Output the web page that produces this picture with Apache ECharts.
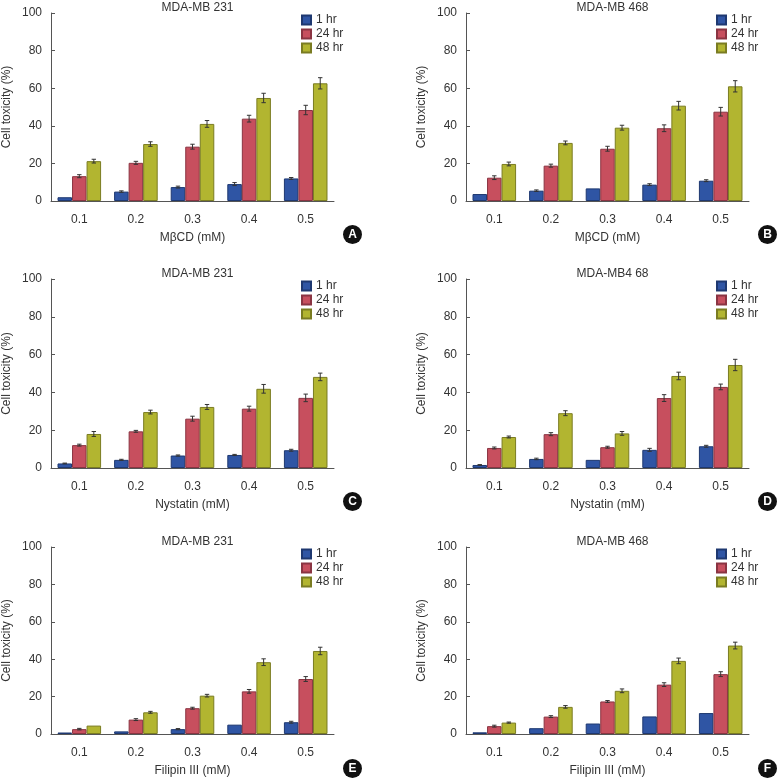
<!DOCTYPE html>
<html>
<head>
<meta charset="utf-8">
<script src="https://cdn.jsdelivr.net/npm/echarts@6/dist/echarts.min.js"></script>
<style>html,body{margin:0;padding:0;background:#fff;}#chart{width:778px;height:778px;}</style>
</head>
<body>
<div id="chart"></div>
<script>
// ---- data ----
const categories = ['0.1', '0.2', '0.3', '0.4', '0.5'];
const seriesNames = ['1 hr', '24 hr', '48 hr'];
const yTicks = [0, 20, 40, 60, 80, 100];
const panelTitles = ['MDA-MB 231', 'MDA-MB 468', 'MDA-MB 231', 'MDA-MB4 68', 'MDA-MB 231', 'MDA-MB 468'];
const xAxisNames = ['M\u03b2CD (mM)', 'M\u03b2CD (mM)', 'Nystatin (mM)', 'Nystatin (mM)', 'Filipin III (mM)', 'Filipin III (mM)'];
const panelLetters = ['A', 'B', 'C', 'D', 'E', 'F'];
const yAxisName = 'Cell toxicity (%)';

// Panel A: MBCD, MDA-MB 231
const a1hr = [2.0, 5.0, 7.4, 9.0, 12.0];
const a24hr = [13.2, 20.3, 28.9, 43.8, 48.4];
const a48hr = [21.2, 30.3, 41.0, 54.8, 62.6];
const aErr1 = [0, 0.4, 0.5, 0.8, 0.5];
const aErr24 = [0.8, 0.8, 1.3, 1.8, 2.5];
const aErr48 = [1.0, 1.2, 1.8, 2.5, 3.0];

// Panel B: MBCD, MDA-MB 468
const b1hr = [3.7, 5.5, 6.7, 8.7, 10.8];
const b24hr = [12.4, 18.8, 27.8, 38.7, 47.5];
const b48hr = [19.7, 30.9, 39.0, 50.7, 61.0];
const bErr1 = [0, 0.4, 0, 0.5, 0.5];
const bErr24 = [1.0, 0.8, 1.3, 1.8, 2.3];
const bErr48 = [1.0, 1.0, 1.3, 2.3, 3.0];

// Panel C: Nystatin, MDA-MB 231
const c1hr = [2.4, 4.3, 6.6, 6.9, 9.4];
const c24hr = [12.1, 19.4, 26.1, 31.4, 37.1];
const c48hr = [18.0, 29.6, 32.3, 41.9, 48.2];
const cErr1 = [0.2, 0.3, 0.3, 0.3, 0.5];
const cErr24 = [0.5, 0.5, 1.3, 1.3, 2.0];
const cErr48 = [1.3, 1.0, 1.3, 2.3, 2.0];

// Panel D: Nystatin, MDA-MB4 68
const d1hr = [1.6, 4.8, 4.3, 9.6, 11.5];
const d24hr = [10.6, 17.9, 11.0, 37.0, 42.9];
const d48hr = [16.4, 29.0, 18.3, 48.7, 54.5];
const dErr1 = [0.2, 0.4, 0, 0.8, 0.5];
const dErr24 = [0.5, 0.8, 0.5, 1.8, 1.5];
const dErr48 = [0.5, 1.3, 1.0, 2.0, 3.0];

// Panel E: Filipin III, MDA-MB 231
const e1hr = [0.8, 1.4, 2.6, 5.0, 6.3];
const e24hr = [2.6, 7.7, 13.8, 22.8, 29.4];
const e48hr = [4.5, 11.6, 20.5, 38.4, 44.4];
const eErr1 = [0, 0, 0.3, 0, 0.5];
const eErr24 = [0.4, 0.5, 0.5, 1.0, 1.3];
const eErr48 = [0, 0.5, 0.7, 1.8, 2.0];

// Panel F: Filipin III, MDA-MB 468
const f1hr = [0.9, 3.1, 5.6, 9.4, 11.2];
const f24hr = [4.2, 9.3, 17.4, 26.4, 32.0];
const f48hr = [6.1, 14.5, 23.1, 39.1, 47.3];
const fErr1 = [0, 0, 0, 0, 0];
const fErr24 = [0.5, 0.5, 0.5, 1.0, 1.3];
const fErr48 = [0.3, 0.7, 1.0, 1.5, 1.8];

// ---- build ----
const panels = [
  {v: [a1hr, a24hr, a48hr], e: [aErr1, aErr24, aErr48]},
  {v: [b1hr, b24hr, b48hr], e: [bErr1, bErr24, bErr48]},
  {v: [c1hr, c24hr, c48hr], e: [cErr1, cErr24, cErr48]},
  {v: [d1hr, d24hr, d48hr], e: [dErr1, dErr24, dErr48]},
  {v: [e1hr, e24hr, e48hr], e: [eErr1, eErr24, eErr48]},
  {v: [f1hr, f24hr, f48hr], e: [fErr1, fErr24, fErr48]}
];

const FONT = '"Liberation Sans", Arial, sans-serif';
const TXT = '#333333';
const AXIS = '#555555';
const fills = ['#2F55A4', '#C74F5E', '#B2B530'];
const borders = ['#1E3870', '#8A3442', '#7A7C22'];
const CAT_GAP = 0.23;

const colLeft = [51, 466];
const rowTop = [13, 279, 547];
const rowHeight = [188, 189, 188];
const plotW = 283;

const grids = [], xAxes = [], yAxes = [], series = [], titles = [], legends = [], graphics = [];

panels.forEach(function (p, i) {
  const col = i % 2, row = Math.floor(i / 2);
  const left = colLeft[col], top = rowTop[row], h = rowHeight[row];
  grids.push({left: left, top: top, width: plotW, height: h, containLabel: false});
  xAxes.push({
    type: 'category', gridIndex: i, data: categories,
    name: xAxisNames[i], nameLocation: 'middle', nameGap: 31,
    nameTextStyle: {fontFamily: FONT, fontSize: 12, color: TXT},
    axisLine: {lineStyle: {color: AXIS, width: 1}},
    axisTick: {inside: true, length: 4, lineStyle: {color: AXIS}},
    axisLabel: {fontFamily: FONT, fontSize: 12, color: TXT, margin: 13},
    splitLine: {show: false}
  });
  yAxes.push({
    type: 'value', gridIndex: i, min: yTicks[0], max: yTicks[yTicks.length - 1],
    interval: yTicks[1] - yTicks[0],
    name: yAxisName, nameLocation: 'middle', nameGap: 38, nameRotate: 90,
    nameTextStyle: {fontFamily: FONT, fontSize: 12, color: TXT},
    axisLine: {show: true, lineStyle: {color: AXIS, width: 1}},
    axisTick: {show: true, inside: true, length: 4, lineStyle: {color: AXIS}},
    axisLabel: {fontFamily: FONT, fontSize: 12, color: TXT, margin: 9},
    splitLine: {show: false}
  });
  titles.push({
    text: panelTitles[i], left: left + plotW / 2, top: top - 16, textAlign: 'center',
    textStyle: {fontFamily: FONT, fontSize: 12, fontWeight: 'normal', color: TXT}
  });
  legends.push({
    data: seriesNames, orient: 'vertical', left: left + plotW - 33, top: top + 1,
    itemWidth: 9, itemHeight: 9, itemGap: 2, selectedMode: false, padding: 0,
    icon: 'rect',
    textStyle: {fontFamily: FONT, fontSize: 12, color: TXT}
  });
  p.v.forEach(function (vals, s) {
    series.push({
      type: 'bar', name: seriesNames[s], xAxisIndex: i, yAxisIndex: i,
      data: vals, barGap: '0%', barCategoryGap: (CAT_GAP * 100) + '%',
      itemStyle: {color: fills[s], borderColor: borders[s], borderWidth: 1},
      emphasis: {disabled: true}, animation: false
    });
  });
  p.v.forEach(function (vals, s) {
    const errs = p.e[s];
    series.push({
      type: 'custom', xAxisIndex: i, yAxisIndex: i, animation: false, z: 5,
      data: vals.map(function (v, k) { return [k, v, errs[k]]; }),
      encode: {x: 0, y: 1},
      renderItem: function (params, api) {
        const ci = api.value(0), v = api.value(1), e = api.value(2);
        if (!e) return null;
        const band = api.size([1, 0])[0];
        const bw = band * (1 - CAT_GAP) / 3;
        const c = api.coord([ci, v]);
        const x = c[0] + (s - 1) * bw;
        const yt = api.coord([ci, v + e])[1];
        const yb = api.coord([ci, v - e])[1];
        const cap = 2.2;
        const st = {stroke: '#333333', lineWidth: 1};
        return {type: 'group', children: [
          {type: 'line', shape: {x1: x, y1: yt, x2: x, y2: yb}, style: st},
          {type: 'line', shape: {x1: x - cap, y1: yt, x2: x + cap, y2: yt}, style: st},
          {type: 'line', shape: {x1: x - cap, y1: yb, x2: x + cap, y2: yb}, style: st}
        ]};
      }
    });
  });
  graphics.push({
    type: 'group', left: left + plotW + 9, top: top + h + 24,
    children: [
      {type: 'circle', shape: {cx: 9.5, cy: 9.5, r: 9.5}, style: {fill: '#111111'}},
      {type: 'text', x: 9.5, y: 10, style: {text: panelLetters[i], fill: '#ffffff', font: 'bold 12px ' + FONT, align: 'center', verticalAlign: 'middle'}}
    ]
  });
});

const chart = echarts.init(document.getElementById('chart'), null, {renderer: 'canvas'});
chart.setOption({
  backgroundColor: '#ffffff',
  animation: false,
  title: titles,
  legend: legends,
  grid: grids,
  xAxis: xAxes,
  yAxis: yAxes,
  series: series,
  graphic: graphics
});
</script>
</body>
</html>
